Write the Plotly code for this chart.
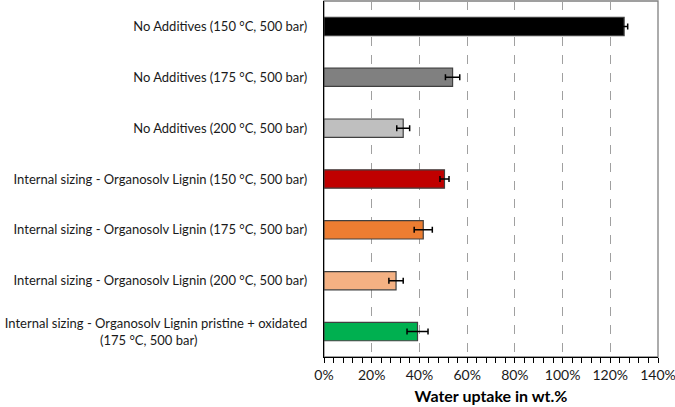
import plotly.graph_objects as go

NBSP = "\u00a0"
categories = [
    "No Additives (150 °C, 500 bar)",
    "No Additives (175 °C, 500 bar)",
    "No Additives (200 °C, 500 bar)",
    "Internal sizing - Organosolv Lignin (150 °C, 500 bar)",
    "Internal sizing - Organosolv Lignin (175 °C, 500 bar)",
    "Internal sizing - Organosolv Lignin (200 °C, 500 bar)",
    "Internal sizing - Organosolv Lignin pristine + oxidated<br>(175 °C, 500 bar)" + NBSP * 33,
]
water_uptake = [125.8, 53.9, 33.2, 50.5, 41.6, 30.2, 39.2]
errors = [1.5, 3.0, 2.7, 1.9, 3.8, 3.0, 4.4]
bar_colors = ["#000000", "#808080", "#bfbfbf", "#c00000", "#ed7d31", "#f4b183", "#00b050"]
x_ticks = [0, 20, 40, 60, 80, 100, 120, 140]
x_tick_labels = [f"{v}%" for v in x_ticks]

fig = go.Figure(
    go.Bar(
        y=categories,
        x=water_uptake,
        orientation="h",
        marker=dict(color=bar_colors, line=dict(color="#404040", width=1.2)),
        error_x=dict(type="data", array=errors, visible=True, color="#000000",
                     thickness=1.5, width=3),
    )
)

fig.update_layout(
    width=675, height=407,
    margin=dict(l=324, r=17, t=1, b=50),
    paper_bgcolor="white", plot_bgcolor="white",
    font=dict(family="Lato", size=13, color="#1a1a1a"),
    bargap=0.64,
    showlegend=False,
    shapes=[dict(type="rect", xref="paper", yref="paper", x0=0, y0=0, x1=1, y1=1,
                 line=dict(color="#808080", width=1.3), layer="below")],
)
fig.update_xaxes(
    automargin=False,
    range=[0, 140],
    tickvals=x_ticks, ticktext=x_tick_labels,
    ticklabeloverflow="allow",
    showgrid=True, gridcolor="#a0a0a0", griddash="dash", gridwidth=1,
    zeroline=False,
    showline=True, linecolor="#000000", linewidth=1.3,
    ticks="outside", ticklen=5, tickcolor="#000000", tickwidth=1,
    minor=dict(dtick=4, ticks="outside", ticklen=5, tickcolor="#000000", tickwidth=1, showgrid=False),
    tickfont=dict(size=14),
    title=dict(text="<b>Water uptake in wt.%</b>", font=dict(size=16, color="#000000"), standoff=8),
)
fig.update_yaxes(
    automargin=False,
    range=[6.5, -0.5],
    showline=True, linecolor="#000000", linewidth=1.3,
    showgrid=False, zeroline=False,
    ticks="", ticklabelstandoff=13,
    tickfont=dict(size=13),
)

fig.write_html("out.html", config={"displayModeBar": False},
               post_script="document.body.style.margin='0px';")
